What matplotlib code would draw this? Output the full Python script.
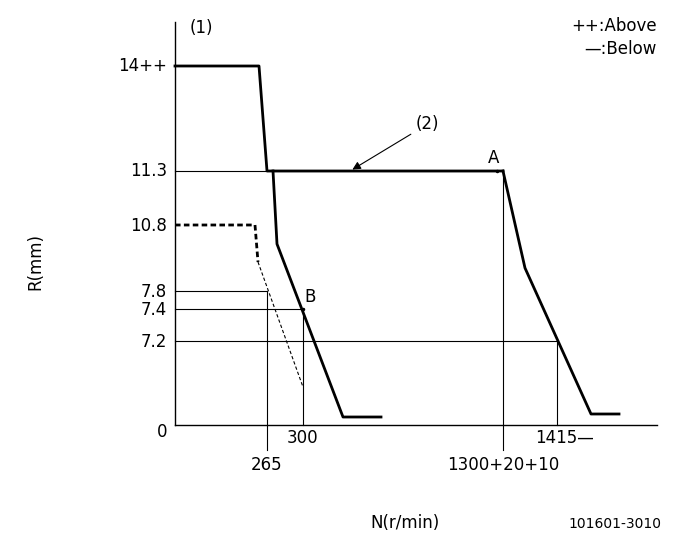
import matplotlib
matplotlib.use("Agg")
import matplotlib.pyplot as plt

plt.rcParams["font.family"] = ["Liberation Sans Narrow", "DejaVu Sans"]

# diagram coordinates (pixel space of the drawing)
gov_x = [175, 259, 267, 503]
gov_y = [66, 66, 171, 171]
low_x = [273, 277, 343, 381]
low_y = [171, 244, 417, 417]
high_x = [503, 525, 591, 619]
high_y = [171, 268, 414, 414]
dash_x = [175, 255, 258]
dash_y = [225, 225, 262]
dash_thin_x = [258, 303]
dash_thin_y = [262, 387]

h_refs = [(171, 175, 497), (291, 175, 267), (309, 175, 303), (341, 175, 557)]
v_refs = [(267, 291, 450), (303, 309, 425), (503, 171, 450), (557, 341, 425)]

y_labels = [("14++", 66), ("11.3", 171), ("10.8", 226), ("7.8", 292),
            ("7.4", 310), ("7.2", 342), ("0", 432)]
x_labels = [("300", 303, 438), ("265", 267, 465), ("1415—", 565, 438),
            ("1300+20+10", 503, 465)]

fig = plt.figure(figsize=(6.85, 5.49), dpi=100)
ax = fig.add_axes([0, 0, 1, 1])
ax.set_xlim(0, 685)
ax.set_ylim(549, 0)
ax.axis("off")

fs = 12
ax.plot([175, 175], [22, 425], color="black", lw=1)
ax.plot([175, 657], [425, 425], color="black", lw=1)

for y, x0, x1 in h_refs:
    ax.plot([x0, x1], [y, y], color="black", lw=0.8)
for x, y0, y1 in v_refs:
    ax.plot([x, x], [y0, y1], color="black", lw=0.8)

ax.plot(gov_x, gov_y, color="black", lw=2)
ax.plot(low_x, low_y, color="black", lw=2)
ax.plot(high_x, high_y, color="black", lw=2)
ax.plot(dash_x, dash_y, color="black", lw=2, ls=(0, (2, 1.2)))
ax.plot(dash_thin_x, dash_thin_y, color="black", lw=0.8, ls=(0, (3, 2)))

for t, y in y_labels:
    ax.text(167, y, t, ha="right", va="center", fontsize=fs)
for t, x, y in x_labels:
    ax.text(x, y, t, ha="center", va="center", fontsize=fs)

ax.text(190, 28, "(1)", ha="left", va="center", fontsize=fs)
ax.text(657, 26, "++:Above", ha="right", va="center", fontsize=fs)
ax.text(657, 49, "—:Below", ha="right", va="center", fontsize=fs)
ax.annotate("(2)", xy=(350, 171), xytext=(416, 124), fontsize=fs,
            ha="left", va="center",
            arrowprops=dict(arrowstyle="-|>", color="black", lw=0.8,
                            mutation_scale=12))
ax.text(494, 158, "A", ha="center", va="center", fontsize=fs)
ax.text(310, 297, "B", ha="center", va="center", fontsize=fs)
ax.plot([497, 303], [171, 309], "k.", ms=3)
ax.text(35, 262, "R(mm)", rotation=90, ha="center", va="center", fontsize=fs)
ax.text(405, 523, "N(r/min)", ha="center", va="center", fontsize=fs)
ax.text(615, 524, "101601-3010", ha="center", va="center", fontsize=10)

fig.savefig("out.png", dpi=100)
